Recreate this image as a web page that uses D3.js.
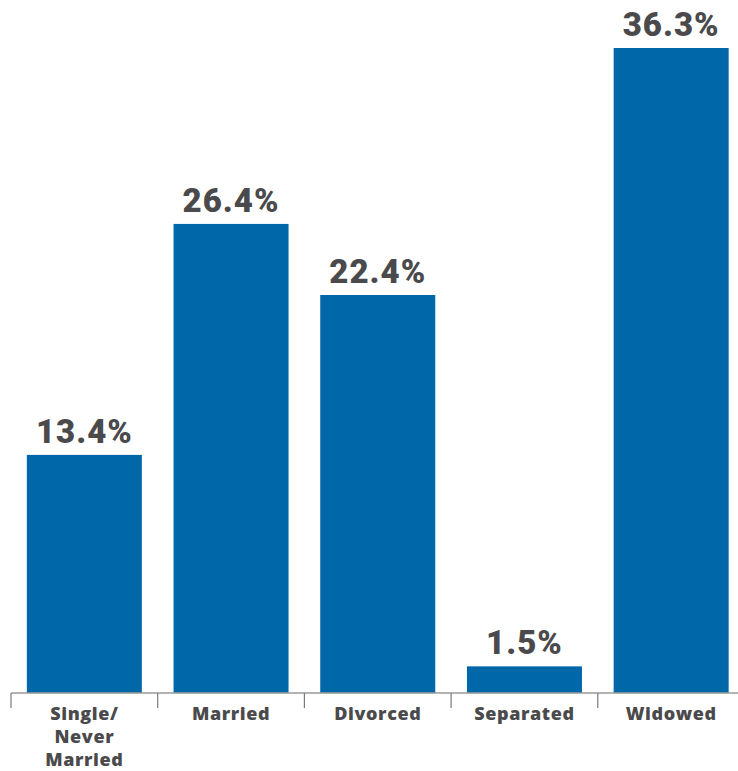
<!DOCTYPE html>
<html>
<head>
<meta charset="utf-8">
<script src="https://cdn.jsdelivr.net/npm/d3@7"></script>
<style>
  body { margin: 0; background: #fff; }
  text { fill: #4a4a4c; }
  .val { font-family: Roboto, sans-serif; font-weight: 900; }
  .cat { font-family: "Open Sans", sans-serif; font-weight: 800; }
</style>
</head>
<body>
<script>
// data
var categories = ["Single/\nNever\nMarried", "Married", "Divorced", "Separated", "Widowed"];
var values = [13.4, 26.4, 22.4, 1.5, 36.3];

var w = 738, h = 771;
var baseline = 693;

var x = d3.scaleBand()
    .domain(categories)
    .range([11, 744.5])
    .paddingInner(0.216)
    .paddingOuter(0.108);

var y = d3.scaleLinear()
    .domain([0, 36.3])
    .range([baseline, 48]);

var svg = d3.select("body").append("svg")
    .attr("width", w)
    .attr("height", h);

svg.selectAll("rect.bar")
    .data(values)
    .enter().append("rect")
    .attr("class", "bar")
    .attr("x", function(d, i){ return x(categories[i]); })
    .attr("y", function(d){ return y(d); })
    .attr("width", x.bandwidth())
    .attr("height", function(d){ return baseline - y(d); })
    .attr("fill", "#0068a8");

// value labels
svg.selectAll("text.val")
    .data(values)
    .enter().append("text")
    .attr("class", "val")
    .attr("x", function(d, i){ return x(categories[i]) + x.bandwidth()/2; })
    .attr("y", function(d){ return y(d) - 12; })
    .attr("text-anchor", "middle")
    .style("font-size", "33px")
    .style("letter-spacing", "1px")
    .text(function(d){ return d.toFixed(1) + "%"; });

// axis line
svg.append("line")
    .attr("x1", 11).attr("x2", w)
    .attr("y1", baseline).attr("y2", baseline)
    .attr("stroke", "#9a9a9a").attr("stroke-width", 1.5);

// ticks between categories
var step = x.step();
var tickX = categories.map(function(c){ return x(c) - step * x.paddingInner()/2; });
tickX[0] = 11;
svg.selectAll("line.tick")
    .data(tickX)
    .enter().append("line")
    .attr("class", "tick")
    .attr("x1", function(d){ return d; }).attr("x2", function(d){ return d; })
    .attr("y1", baseline).attr("y2", baseline + 15)
    .attr("stroke", "#7a7a7a").attr("stroke-width", 1.2);

// category labels
categories.forEach(function(c){
    var t = svg.append("text")
        .attr("class", "cat")
        .attr("text-anchor", "middle")
        .attr("x", x(c) + x.bandwidth()/2)
        .attr("y", 720)
        .style("font-size", "18px")
        .style("letter-spacing", "0.6px");
    c.split("\n").forEach(function(line, k){
        t.append("tspan")
            .attr("x", x(c) + x.bandwidth()/2)
            .attr("dy", k === 0 ? 0 : 23)
            .text(line);
    });
});
</script>
</body>
</html>
